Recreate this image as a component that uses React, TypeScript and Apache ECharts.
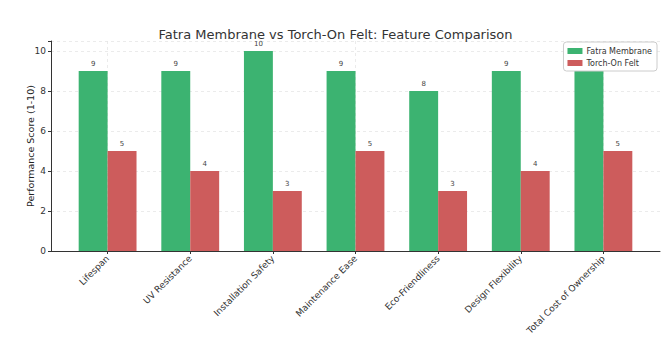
import React, { useEffect, useRef } from "react";
import * as echarts from "echarts";

const categories = [
  "Lifespan",
  "UV Resistance",
  "Installation Safety",
  "Maintenance Ease",
  "Eco-Friendliness",
  "Design Flexibility",
  "Total Cost of Ownership",
];
const fatraValues = [9, 9, 10, 9, 8, 9, 9];
const torchValues = [5, 4, 3, 5, 3, 4, 5];
const yTicks = [0, 2, 4, 6, 8, 10];

const FONT = "DejaVu Sans";

export default function App() {
  const ref = useRef<HTMLDivElement>(null);
  useEffect(() => {
    if (!ref.current) return;
    const chart = echarts.init(ref.current, undefined, { renderer: "svg" });
    const W = 671;
    const plotL = 51;
    const plotR = 660;
    const unit = (plotR - plotL) / 7.37;
    const c0 = plotL + 0.685 * unit;
    const c6 = c0 + 6 * unit;
    const bandL = c0 - unit / 2;
    const bandR = c6 + unit / 2;
    const top = 41;
    const bottom = 354 - 251;
    const barW = 0.35 * unit;
    const labelStyle = {
      show: true,
      position: "top",
      distance: 4,
      fontSize: 7,
      fontFamily: FONT,
      color: "#444444",
    };
    chart.setOption({
      animation: false,
      textStyle: { fontFamily: FONT },
      title: {
        text: "Fatra Membrane vs Torch-On Felt: Feature Comparison",
        left: "center",
        top: 23,
        textStyle: { fontFamily: FONT, fontSize: 13, fontWeight: "normal", color: "#333333" },
      },
      legend: {
        orient: "vertical",
        right: 14,
        top: 42,
        padding: [5, 5, 4, 4],
        itemGap: 4,
        itemWidth: 15,
        itemHeight: 6,
        borderColor: "#cccccc",
        borderWidth: 1,
        borderRadius: 3,
        backgroundColor: "rgba(255,255,255,0.85)",
        icon: "rect",
        textStyle: { fontFamily: FONT, fontSize: 8, color: "#333333", padding: [0, 0, 0, -1] },
        data: ["Fatra Membrane", "Torch-On Felt"],
      },
      grid: [
        { left: bandL, right: W - bandR, top, bottom },
        { left: plotL, right: W - plotR, top, bottom },
        { left: c0, right: W - c6, top, bottom },
      ],
      xAxis: [
        {
          type: "category",
          gridIndex: 0,
          data: categories,
          axisLine: { show: false },
          axisTick: { show: true, alignWithLabel: true, length: 3, lineStyle: { color: "#333333" } },
          axisLabel: {
            rotate: 45,
            interval: 0,
            fontSize: 9,
            fontFamily: FONT,
            color: "#333333",
            margin: 6,
          },
          splitLine: { show: false },
        },
        {
          type: "value",
          gridIndex: 1,
          min: 0,
          max: 1,
          axisLine: { show: true, lineStyle: { color: "#333333", width: 1 } },
          axisTick: { show: false },
          axisLabel: { show: false },
          splitLine: { show: false },
        },
        {
          type: "category",
          gridIndex: 2,
          data: categories,
          boundaryGap: false,
          axisLine: { show: false },
          axisTick: { show: false },
          axisLabel: { show: false },
          splitLine: { show: true, lineStyle: { color: "#e6e6e6", type: [3, 3], width: 0.8 } },
        },
      ],
      yAxis: [
        { type: "value", gridIndex: 0, min: 0, max: 10.5, show: false, splitLine: { show: false } },
        {
          type: "value",
          gridIndex: 1,
          min: 0,
          max: 10.5,
          interval: 2,
          name: "Performance Score (1-10)",
          nameLocation: "middle",
          nameGap: 16,
          nameMoveOverlap: false,
          nameTextStyle: { fontFamily: FONT, fontSize: 9.5, color: "#222222" },
          axisLine: { show: true, lineStyle: { color: "#333333", width: 1 } },
          axisTick: { show: true, length: 3, lineStyle: { color: "#333333" } },
          axisLabel: {
            fontSize: 9,
            fontFamily: FONT,
            color: "#333333",
            margin: 5,
            formatter: (v: number) => (yTicks.includes(v) ? String(v) : ""),
          },
          splitLine: { show: true, lineStyle: { color: "#e6e6e6", type: [3, 3], width: 0.8 } },
        },
        { type: "value", gridIndex: 2, min: 0, max: 10.5, show: false, splitLine: { show: false } },
      ],
      series: [
        {
          name: "Fatra Membrane",
          type: "bar",
          xAxisIndex: 0,
          yAxisIndex: 0,
          data: fatraValues,
          barWidth: barW,
          barGap: "0%",
          itemStyle: { color: "#3cb371" },
          label: labelStyle,
          z: 3,
        },
        {
          name: "Torch-On Felt",
          type: "bar",
          xAxisIndex: 0,
          yAxisIndex: 0,
          data: torchValues,
          barWidth: barW,
          barGap: "0%",
          itemStyle: { color: "#cd5c5c" },
          label: labelStyle,
          z: 3,
        },
      ],
    });
    return () => chart.dispose();
  }, []);
  return <div ref={ref} style={{ width: 671, height: 354, position: "absolute", left: 0, top: 0 }} />;
}
